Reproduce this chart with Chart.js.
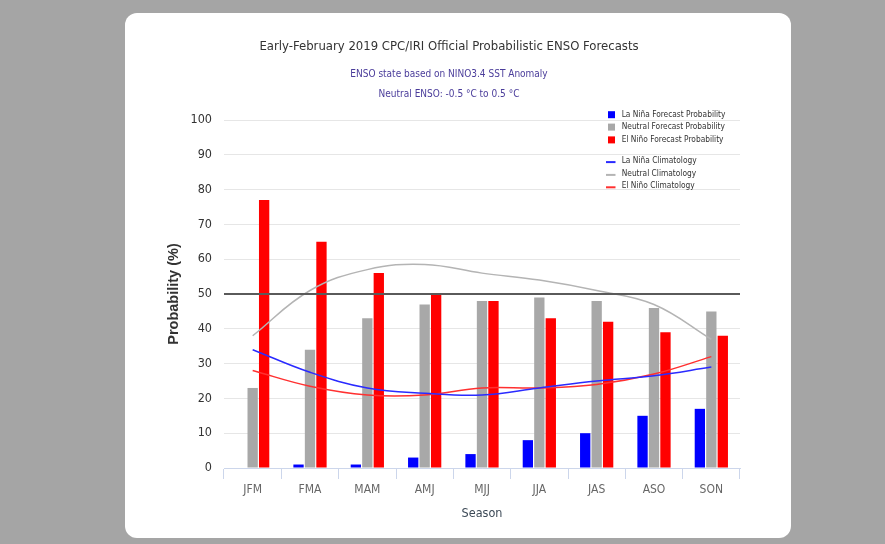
<!DOCTYPE html>
<html>
<head>
<meta charset="utf-8">
<script src="https://cdn.jsdelivr.net/npm/chart.js@4.4.1/dist/chart.umd.min.js"></script>
<style>
  html, body { margin: 0; padding: 0; width: 885px; height: 544px; overflow: hidden; background: #a5a5a5; }
  #card { position: absolute; left: 125px; top: 13px; width: 666px; height: 525px; background: #fff; border-radius: 12px; }
  #card canvas { position: absolute; left: 0; top: 0; }
</style>
</head>
<body>
<div id="card"><canvas id="ensoChart" width="666" height="525"></canvas></div>
<script>
const seasons = ["JFM", "FMA", "MAM", "AMJ", "MJJ", "JJA", "JAS", "ASO", "SON"];

// forecast probabilities (%)
const laNinaProb = [0, 1, 1, 3, 4, 8, 10, 15, 17];
const neutralProb = [23, 34, 43, 47, 48, 49, 48, 46, 45];
const elNinoProb = [77, 65, 56, 50, 48, 43, 42, 39, 38];

// climatology (%)
const laNinaClim = [34, 27.5, 23, 21.5, 21, 23, 25, 26.5, 29];
const neutralClim = [38, 51, 57, 58.5, 56, 54, 51, 47, 37];
const elNinoClim = [28, 23.5, 21, 21, 23, 23, 24, 27, 32];

const yMin = 0;
const yMax = 100;
const yStep = 10;
const refLine = 50;

const NARROW = "'DejaVu Sans Condensed', 'Liberation Sans', sans-serif";
const WIDE = "'Liberation Sans', Arial, sans-serif";

const titleText = "Early-February 2019 CPC/IRI Official Probabilistic ENSO Forecasts";
const subtitleText = ["ENSO state based on NINO3.4 SST Anomaly", "Neutral ENSO: -0.5 °C to 0.5 °C"];

// titles, 50% line and legend are drawn by hand (the legend sits inside the plot)
const overlayPlugin = {
  id: "overlay",
  afterDatasetsDraw(chart) {
    const { ctx, chartArea, scales } = chart;
    const y = scales.y.getPixelForValue(refLine);
    ctx.save();
    ctx.strokeStyle = "#5a5a5a";
    ctx.lineWidth = 2;
    ctx.beginPath();
    ctx.moveTo(chartArea.left, y);
    ctx.lineTo(chartArea.right, y);
    ctx.stroke();
    ctx.restore();
  },
  afterDraw(chart) {
    const { ctx, chartArea } = chart;
    const cx = 324;
    ctx.save();
    ctx.textAlign = "center";
    ctx.textBaseline = "middle";
    ctx.fillStyle = "#333";
    ctx.font = "13px " + NARROW;
    ctx.fillText(titleText, cx, 34);
    ctx.fillStyle = "#4a3c9a";
    ctx.font = "10px " + NARROW;
    ctx.fillText(subtitleText[0], cx, 61);
    ctx.fillText(subtitleText[1], cx, 81);
    ctx.restore();

    const x0 = chartArea.right - 132;
    const rowsY = [-5.3, 7.1, 19.9, 41.1, 53.9, 66.3];
    ctx.save();
    ctx.font = "8.3px " + NARROW;
    ctx.textBaseline = "middle";
    chart.data.datasets.forEach((ds, i) => {
      const y = chartArea.top + rowsY[i];
      if (ds.type === "line") {
        ctx.strokeStyle = ds.borderColor;
        ctx.lineWidth = 2;
        ctx.beginPath();
        ctx.moveTo(x0 - 2, y + 1);
        ctx.lineTo(x0 + 7.5, y + 1);
        ctx.stroke();
      } else {
        ctx.fillStyle = ds.backgroundColor;
        ctx.fillRect(x0, y - 3.5, 7, 7);
      }
      ctx.fillStyle = "#333";
      ctx.fillText(ds.label, x0 + 13.7, y);
    });
    ctx.restore();
  },
};

const lineStyle = {
  type: "line",
  borderWidth: 1.5,
  pointRadius: 0,
  tension: 0.4,
  fill: false,
  order: 0,
};

new Chart(document.getElementById("ensoChart"), {
  type: "bar",
  data: {
    labels: seasons,
    datasets: [
      { label: "La Niña Forecast Probability", data: laNinaProb, backgroundColor: "#0000ff", order: 1 },
      { label: "Neutral Forecast Probability", data: neutralProb, backgroundColor: "#a8a8a8", order: 1 },
      { label: "El Niño Forecast Probability", data: elNinoProb, backgroundColor: "#ff0000", order: 1 },
      { ...lineStyle, label: "La Niña Climatology", data: laNinaClim, borderColor: "#2a2aff" },
      { ...lineStyle, label: "Neutral Climatology", data: neutralClim, borderColor: "#b4b4b4" },
      { ...lineStyle, label: "El Niño Climatology", data: elNinoClim, borderColor: "#ff3030" },
    ],
  },
  options: {
    responsive: false,
    animation: false,
    devicePixelRatio: 1,
    categoryPercentage: 0.6,
    barPercentage: 0.9,
    layout: { padding: { left: 0, right: 51, top: 107, bottom: 0 } },
    plugins: {
      legend: { display: false },
      tooltip: { enabled: false },
      title: { display: false },
      subtitle: { display: false },
    },
    scales: {
      x: {
        grid: { display: true, drawOnChartArea: false, drawTicks: true, tickLength: 11, color: "#ccd6eb" },
        border: { display: true, color: "#ccd6eb", width: 1 },
        ticks: { color: "#666", font: { family: NARROW, size: 12 }, padding: 4 },
        title: {
          display: true,
          text: "Season",
          color: "#3d4a57",
          font: { family: NARROW, size: 12.5, lineHeight: 1.2 },
          padding: { top: 4, bottom: 16.6 },
        },
        afterFit(scale) { scale.height = 70; },
      },
      y: {
        min: yMin,
        max: yMax,
        grid: { color: "#e6e6e6", drawTicks: false },
        border: { display: false },
        ticks: { stepSize: yStep, color: "#333", font: { family: NARROW, size: 12.5 }, padding: 12 },
        title: {
          display: true,
          text: "Probability (%)",
          color: "#333",
          font: { family: WIDE, size: 14.5, weight: "bold", lineHeight: 1.2 },
          padding: { top: 40, bottom: 0 },
        },
        afterFit(scale) { scale.width = 99; },
      },
    },
  },
  plugins: [overlayPlugin],
});
</script>
</body>
</html>
